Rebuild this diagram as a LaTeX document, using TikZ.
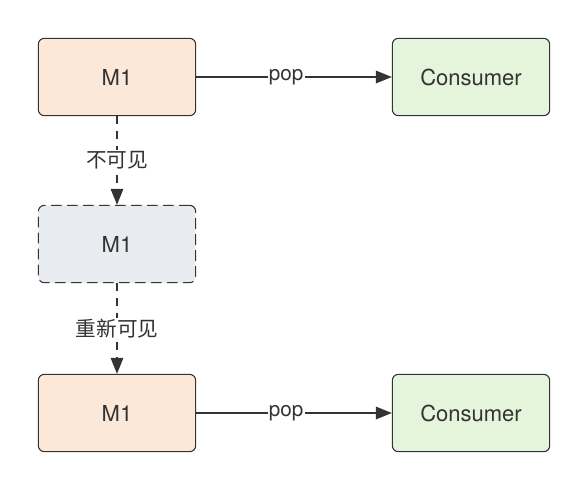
\documentclass[tikz,border=0pt]{standalone}
\usepackage{fontspec}
\setmainfont{TeX Gyre Heros}
\newfontfamily\cjk{Noto Sans CJK SC}
\usetikzlibrary{arrows.meta}

\definecolor{msgfill}{HTML}{FCE8D9}
\definecolor{consfill}{HTML}{E5F5DB}
\definecolor{hidefill}{HTML}{E8EBEF}
\definecolor{edge}{HTML}{333333}

\tikzset{
  box/.style={draw=edge, line width=0.8pt, rounded corners=4.5pt, minimum width=118pt, minimum height=58pt, font=\fontsize{16.5}{20}\selectfont, text=edge},
  msg/.style={box, fill=msgfill},
  cons/.style={box, fill=consfill},
  hidden/.style={box, fill=hidefill, dash pattern=on 8pt off 4pt},
  flow/.style={draw=edge, line width=0.8pt, -{Triangle[length=12pt,width=9.5pt]}},
  lbl/.style={fill=white, inner sep=1pt, font=\fontsize{15.5}{19}\selectfont, text=edge}
}

\begin{document}
\begin{tikzpicture}[x=0.75pt,y=-0.75pt]
            \useasboundingbox (0,0) rectangle (588,489);
            \node[msg] (m1) at (117,77) {M1};
            \node[cons] (c1) at (471,77) {Consumer};
            \node[hidden] (m2) at (117,244) {M1};
            \node[msg] (m3) at (117,413) {M1};
            \node[cons] (c3) at (471,413) {Consumer};
            \draw[flow] (m1) -- node[lbl, pos=0.46] {pop} (c1);
            \draw[flow] (m3) -- node[lbl, pos=0.46] {pop} (c3);
            \draw[flow, dash pattern=on 6pt off 5pt] (m1) -- node[lbl] {\cjk 不可见} (m2);
            \draw[flow, dash pattern=on 6pt off 5pt] (m2) -- node[lbl] {\cjk 重新可见} (m3);
        \end{tikzpicture}
\end{document}
